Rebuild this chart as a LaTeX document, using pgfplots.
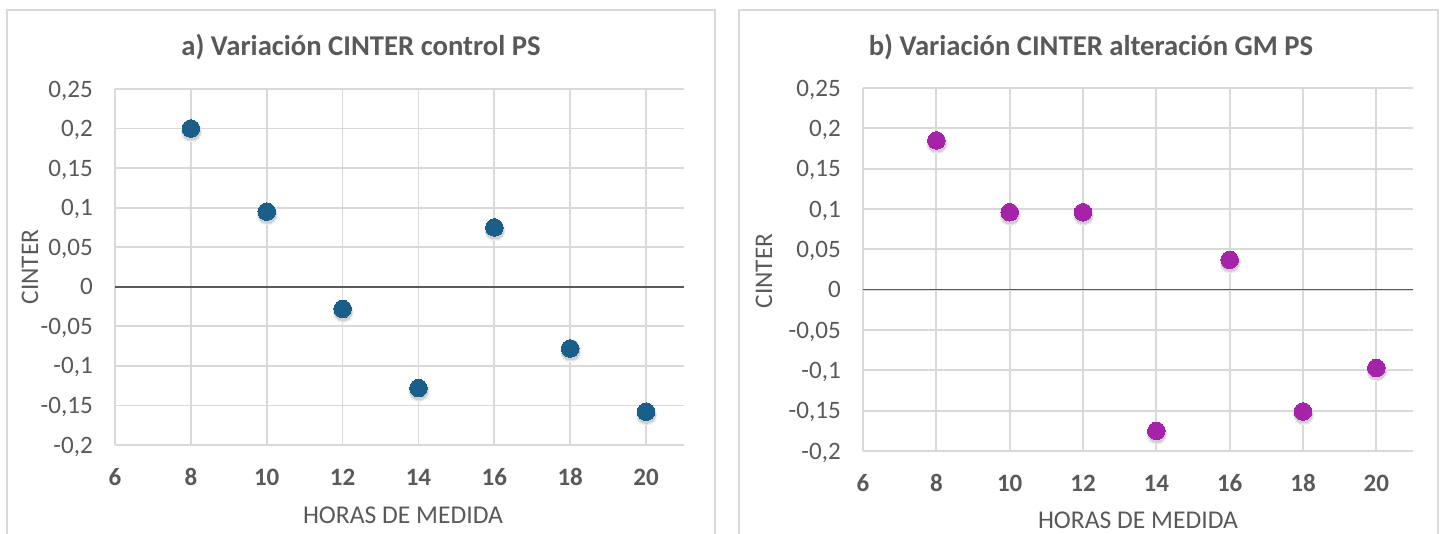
\documentclass[border=0pt]{standalone}
\usepackage{pgfplots}
\pgfplotsset{compat=1.18}
\usepackage{fontspec}
\setmainfont{Carlito}
\definecolor{txt}{HTML}{595959}
\definecolor{gridc}{HTML}{D9D9D9}
\definecolor{blu}{HTML}{1A5E8A}
\definecolor{pur}{HTML}{A423A8}
\definecolor{zeroc}{HTML}{595959}
\definecolor{shA}{HTML}{F0F0F0}
\definecolor{shB}{HTML}{E2E2E2}
\definecolor{shC}{HTML}{CFCFCF}

\pgfplotsset{panel/.style={
  scale only axis, anchor=south west, clip=false,
  xmin=6, xmax=21, ymin=-0.2, ymax=0.25,
  xtick={6,8,10,12,14,16,18,20},
  ytick={-0.2,-0.15,-0.1,-0.05,0,0.05,0.1,0.15,0.2,0.25},
  grid=major, major grid style={gridc, line width=1.3pt},
  axis line style={draw=none}, tick style={draw=none},
  /pgf/number format/assume math mode=true,
  yticklabel style={/pgf/number format/.cd, use comma, fixed, precision=2,
    /tikz/.cd, font=\fontsize{18.8}{20}\selectfont, text=txt,
    inner sep=0pt, anchor=base east, xshift=-16.5pt, yshift=-6pt},
  xticklabel style={font=\bfseries\fontsize{18.75}{20}\selectfont, text=txt,
    inner sep=0pt, anchor=base, yshift=-30pt},
  layA/.style={only marks, mark=*, mark size=7.6pt, color=shA, line width=0pt,
    mark options={xshift=0.4pt, yshift=-2.4pt}},
  layB/.style={only marks, mark=*, mark size=7.1pt, color=shB, line width=0pt,
    mark options={xshift=0.4pt, yshift=-2.2pt}},
  layC/.style={only marks, mark=*, mark size=6.6pt, color=shC, line width=0pt,
    mark options={xshift=0.4pt, yshift=-2pt}},
}}

\begin{document}
\begin{tikzpicture}
\begin{scope}[x=0.75pt,y=-0.75pt]
\useasboundingbox (0,0) rectangle (1448,533);
\draw[gridc, line width=1pt] (7,540) -- (7,10) -- (715,10) -- (715,540);
\draw[gridc, line width=1pt] (739,540) -- (739,10) -- (1438,10) -- (1438,540);
\node[font=\bfseries\fontsize{21.5}{24}\selectfont, text=txt] at (361,47) {a) Variación CINTER control PS};
\node[font=\bfseries\fontsize{21.5}{24}\selectfont, text=txt] at (1091,47) {b) Variación CINTER alteración GM PS};
\node[rotate=90, font=\fontsize{19}{21}\selectfont, text=txt] at (30,267) {CINTER};
\node[rotate=90, font=\fontsize{19}{21}\selectfont, text=txt] at (764,271) {CINTER};
\node[font=\fontsize{19.2}{21}\selectfont, text=txt] at (403,515) {HORAS DE MEDIDA};
\node[font=\fontsize{19.2}{21}\selectfont, text=txt] at (1138,520) {HORAS DE MEDIDA};
\end{scope}

\begin{axis}[panel, at={(86.25pt,-333.75pt)}, width=426.75pt, height=267pt]
\addplot[zeroc, line width=1.1pt] coordinates {(6,0) (21,0)};
\addplot[layA] coordinates {(8,0.2) (10,0.095) (12,-0.028) (14,-0.128) (16,0.075) (18,-0.078) (20,-0.158)};
\addplot[layB] coordinates {(8,0.2) (10,0.095) (12,-0.028) (14,-0.128) (16,0.075) (18,-0.078) (20,-0.158)};
\addplot[layC] coordinates {(8,0.2) (10,0.095) (12,-0.028) (14,-0.128) (16,0.075) (18,-0.078) (20,-0.158)};
\addplot[only marks, mark=*, mark size=6.6pt, color=blu, line width=0pt]
  coordinates {(8,0.2) (10,0.095) (12,-0.028) (14,-0.128) (16,0.075) (18,-0.078) (20,-0.158)};
\end{axis}

\begin{axis}[panel, at={(647.25pt,-338.25pt)}, width=412.5pt, height=272.25pt]
\addplot[zeroc, line width=1.1pt] coordinates {(6,0) (21,0)};
\addplot[layA] coordinates {(8,0.185) (10,0.096) (12,0.096) (14,-0.175) (16,0.037) (18,-0.151) (20,-0.097)};
\addplot[layB] coordinates {(8,0.185) (10,0.096) (12,0.096) (14,-0.175) (16,0.037) (18,-0.151) (20,-0.097)};
\addplot[layC] coordinates {(8,0.185) (10,0.096) (12,0.096) (14,-0.175) (16,0.037) (18,-0.151) (20,-0.097)};
\addplot[only marks, mark=*, mark size=6.6pt, color=pur, line width=0pt]
  coordinates {(8,0.185) (10,0.096) (12,0.096) (14,-0.175) (16,0.037) (18,-0.151) (20,-0.097)};
\end{axis}
\end{tikzpicture}
\end{document}
